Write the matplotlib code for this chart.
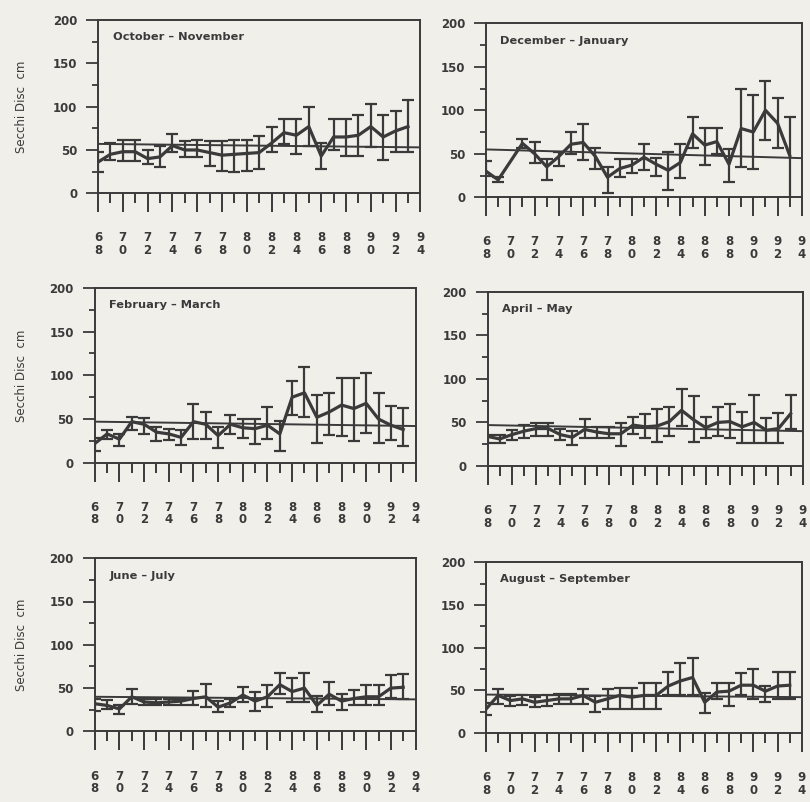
#!/usr/bin/env python3
"""
Seasonal Secchi disc depth, 1968-1993, six two-month panels.

Usage:
    python plot.py
"""

import numpy as np
import matplotlib
matplotlib.use("Agg")
import matplotlib.pyplot as plt
from matplotlib.ticker import MultipleLocator

# --- data (cm) ---
years = list(range(1968, 1994))

titles = [
    "October \u2013 November", "December \u2013 January",
    "February \u2013 March", "April \u2013 May",
    "June \u2013 July", "August \u2013 September",
]

oct_nov_mean = [36, 45, 48, 48, 40, 42, 55, 50, 50, 47, 44, 45, 46, 47, 58, 70, 67, 77, 43, 65, 65, 67, 77, 65, 72, 77]
oct_nov_lo = [24, 38, 37, 37, 34, 30, 48, 42, 42, 31, 26, 25, 26, 28, 48, 57, 45, 55, 28, 50, 43, 43, 53, 38, 48, 48]
oct_nov_hi = [48, 58, 62, 62, 50, 55, 68, 60, 62, 60, 60, 62, 62, 66, 77, 86, 86, 100, 58, 86, 86, 90, 103, 90, 95, 108]

dec_jan_mean = [30, 20, None, 62, 50, 35, 47, 61, 63, 47, 23, 33, 37, 46, 38, 31, 40, 73, 60, 64, 38, 79, 75, 100, 85, 48]
dec_jan_lo = [24, 17, None, 57, 39, 20, 36, 50, 43, 32, 5, 23, 28, 31, 25, 8, 22, 57, 37, 50, 17, 35, 32, 66, 57, -2]
dec_jan_hi = [42, 23, None, 67, 63, 44, 52, 75, 84, 57, 35, 44, 44, 61, 45, 52, 61, 92, 80, 80, 56, 124, 117, 134, 114, 92]

feb_mar_mean = [22, 33, 27, 47, 44, 35, 33, 29, 47, 44, 31, 44, 40, 39, 43, 33, 75, 80, 52, 58, 66, 62, 68, 50, 43, 38]
feb_mar_lo = [14, 27, 19, 37, 33, 25, 26, 20, 27, 27, 17, 33, 28, 22, 27, 13, 55, 52, 23, 32, 31, 25, 34, 23, 26, 19]
feb_mar_hi = [28, 37, 33, 52, 51, 41, 39, 37, 67, 58, 41, 55, 50, 50, 64, 48, 94, 110, 78, 80, 97, 97, 103, 80, 65, 63]

apr_may_mean = [34, 31, 36, 40, 43, 43, 36, 33, 42, 39, 37, 37, 47, 45, 46, 51, 64, 53, 44, 50, 51, 45, 50, 41, 43, 60]
apr_may_lo = [26, 26, 30, 32, 35, 35, 30, 24, 32, 32, 32, 23, 37, 32, 28, 35, 46, 28, 32, 34, 32, 26, 26, 26, 26, 43]
apr_may_hi = [36, 36, 41, 47, 49, 49, 43, 40, 54, 45, 45, 49, 56, 60, 65, 68, 88, 80, 56, 68, 71, 62, 81, 55, 61, 81]

jun_jul_mean = [32, 30, 26, 40, 34, 33, 34, 35, 38, 40, 28, 33, 42, 35, 40, 54, 46, 50, 30, 43, 35, 38, 40, 40, 50, 51]
jun_jul_lo = [24, 26, 20, 32, 30, 30, 30, 30, 31, 28, 22, 28, 34, 24, 28, 43, 34, 34, 22, 30, 25, 30, 30, 30, 39, 37]
jun_jul_hi = [37, 36, 31, 49, 38, 37, 38, 38, 47, 55, 35, 38, 51, 45, 54, 68, 62, 68, 41, 57, 43, 48, 54, 54, 65, 66]

aug_sep_mean = [28, 44, 38, 40, 36, 38, 40, 40, 44, 36, 40, 44, 42, 44, 44, 55, 61, 65, 36, 48, 49, 56, 56, 49, 55, 56]
aug_sep_lo = [21, 34, 32, 33, 30, 32, 34, 34, 34, 25, 28, 28, 28, 28, 28, 44, 44, 44, 23, 40, 32, 44, 40, 36, 40, 40]
aug_sep_hi = [35, 51, 43, 45, 42, 44, 46, 46, 51, 43, 51, 53, 53, 59, 59, 72, 82, 88, 47, 59, 59, 70, 75, 55, 72, 72]

# long-term reference line, value at 1968 and at 1994
ref_start = [57, 55, 47, 47, 40, 45]
ref_end = [53, 45, 42, 40, 37, 42]

# axes boxes in figure fractions: left, bottom, width, height
boxes = [
    (0.121, 0.759, 0.398, 0.216),
    (0.600, 0.754, 0.390, 0.217),
    (0.117, 0.423, 0.396, 0.218),
    (0.602, 0.419, 0.389, 0.217),
    (0.117, 0.088, 0.396, 0.216),
    (0.600, 0.086, 0.390, 0.213),
]

PAPER = "#f0efea"
INK = "#3a3a3a"


def draw_panel(ax, title, mean, lo, hi, r0, r1):
    """Plot one two-month series with its error bars and reference line."""
    keep = [i for i, m in enumerate(mean) if m is not None]
    x = np.array([years[i] for i in keep])
    m = np.array([mean[i] for i in keep], dtype=float)
    l = np.array([lo[i] for i in keep], dtype=float)
    h = np.array([hi[i] for i in keep], dtype=float)

    ax.plot([1968, 1994], [r0, r1], color=INK, lw=1.4, zorder=2)
    ax.errorbar(x, m, yerr=[m - l, h - m], fmt="-", color=INK, lw=2.3,
                elinewidth=1.6, capsize=4.5, capthick=1.6, zorder=3)

    ax.set_xlim(1968, 1994)
    ax.set_ylim(0, 200)
    ax.set_facecolor(PAPER)

    # stacked two-digit year labels
    major = list(range(1968, 1995, 2))
    ax.set_xticks(major)
    ax.set_xticklabels(["%s\n%s" % (str(y)[2], str(y)[3]) for y in major],
                       linespacing=0.95)
    ax.xaxis.set_minor_locator(MultipleLocator(1))
    ax.yaxis.set_major_locator(MultipleLocator(50))
    ax.yaxis.set_minor_locator(MultipleLocator(25))

    ax.tick_params(axis="x", which="major", direction="out", length=13.5,
                   width=1.4, pad=14, labelsize=8.5, colors=INK)
    ax.tick_params(axis="x", which="minor", direction="out", length=7.5,
                   width=1.4, colors=INK)
    ax.tick_params(axis="y", which="major", direction="out", length=9,
                   width=1.3, pad=6, labelsize=8.5, colors=INK)
    ax.tick_params(axis="y", which="minor", direction="out", length=4.5,
                   width=1.3, colors=INK)
    for lab in ax.get_xticklabels() + ax.get_yticklabels():
        lab.set_fontweight("bold")

    for sp in ax.spines.values():
        sp.set_color(INK)
        sp.set_linewidth(1.4)

    ax.text(0.045, 0.90, title, transform=ax.transAxes, fontsize=8.2,
            fontweight="bold", color=INK, va="center", ha="left")


def main():
    fig = plt.figure(figsize=(8.10, 8.02), dpi=100)
    fig.patch.set_facecolor(PAPER)

    series = [
        (oct_nov_mean, oct_nov_lo, oct_nov_hi),
        (dec_jan_mean, dec_jan_lo, dec_jan_hi),
        (feb_mar_mean, feb_mar_lo, feb_mar_hi),
        (apr_may_mean, apr_may_lo, apr_may_hi),
        (jun_jul_mean, jun_jul_lo, jun_jul_hi),
        (aug_sep_mean, aug_sep_lo, aug_sep_hi),
    ]

    for k, (box, (m, lo, hi)) in enumerate(zip(boxes, series)):
        ax = fig.add_axes(box)
        draw_panel(ax, titles[k], m, lo, hi, ref_start[k], ref_end[k])
        if k % 2 == 0:
            fig.text(0.027, box[1] + box[3] / 2, "Secchi Disc  cm",
                     rotation=90, ha="center", va="center", fontsize=8.5,
                     color=INK)

    fig.savefig("out.png", dpi=100, facecolor=PAPER)


if __name__ == "__main__":
    main()
